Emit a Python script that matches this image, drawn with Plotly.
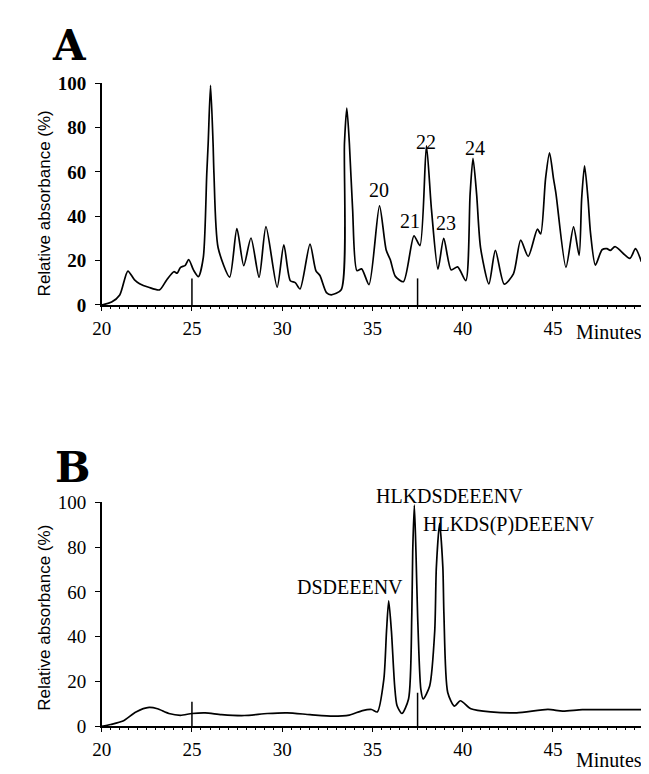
import plotly.graph_objects as go

# ---------------- data ----------------
# Panel A chromatogram (time in minutes, relative absorbance %)
a_time = [20.0, 20.55, 21.0, 21.45, 21.82, 22.1, 22.6, 23.2, 23.6, 24.0, 24.18, 24.36, 24.63, 24.82,
          25.09, 25.36, 25.63, 25.82, 25.9, 26.03, 26.17, 26.22, 26.45, 27.09, 27.49, 27.87, 28.27,
          28.72, 29.1, 29.72, 30.09, 30.45, 30.72, 30.99, 31.54, 31.87, 32.09, 32.45, 32.72, 33.27,
          33.45, 33.58, 33.72, 33.9, 34.14, 34.4, 34.81, 35.39, 35.76, 35.99, 36.27, 36.72, 37.3,
          37.63, 37.99, 38.27, 38.63, 38.95, 39.36, 39.72, 40.17, 40.41, 40.57, 40.77, 40.99, 41.45,
          41.81, 42.3, 42.81, 43.21, 43.63, 44.14, 44.32, 44.59, 44.81, 45.03, 45.17, 45.72, 46.14,
          46.45, 46.59, 46.75, 46.94, 47.08, 47.35, 47.72, 47.99, 48.17, 48.44, 49.26, 49.57, 49.9]
a_abs = [0, 1.3, 4.5, 15.3, 11.3, 9.6, 8.0, 6.8, 11.3, 15.0, 14.3, 16.9, 17.9, 20.5,
         15.7, 12.8, 21.5, 59, 73, 99, 73, 59, 25.8, 12.6, 34.4, 17.7, 30.2,
         12.5, 35.3, 8.0, 27.1, 10.9, 10.1, 7.2, 27.4, 15.4, 13.3, 5.6, 4.6, 6.9,
         73, 88.8, 73, 43.3, 15.5, 16.3, 9.2, 44.7, 24.8, 20.4, 12.9, 10.5, 31.2,
         26.8, 71.8, 43.0, 16.2, 30.1, 15.8, 17.2, 11.0, 50, 66.1, 50, 25.8, 9.5,
         24.6, 9.4, 14.0, 29.2, 21.9, 34.2, 32.0, 57, 68.6, 57, 50.0, 17.0, 35.2,
         22.4, 48, 62.7, 48, 32.5, 18.0, 24.9, 25.4, 24.6, 26.3, 21.0, 25.4, 19.5]

# Panel B chromatogram
b_time = [20.0, 20.5, 21.18, 21.9, 22.63, 23.09, 23.72, 24.36, 25.0, 25.73, 26.64, 27.9, 29.18,
          30.27, 31.54, 32.81, 33.72, 34.45, 34.95, 35.27, 35.63, 35.78, 35.9, 36.05, 36.23, 36.36,
          36.63, 37.0, 37.18, 37.23, 37.32, 37.41, 37.5, 37.68, 37.81, 38.17, 38.45, 38.54, 38.72,
          38.9, 38.96, 39.17, 39.54, 39.87, 40.45, 41.54, 42.99, 44.72, 45.54, 46.63, 48.45, 49.9]
b_abs = [0, 0.8, 2.3, 6.4, 8.4, 7.8, 5.7, 4.9, 5.7, 6.0, 5.2, 4.8, 5.7,
         6.0, 5.2, 4.5, 5.0, 7.0, 7.5, 6.4, 20.9, 42.6, 56.0, 42.6, 18.0, 9.3,
         5.7, 12.2, 50.0, 78, 98.8, 78, 50.0, 16.5, 12.2, 18.0, 42.6, 71, 90.7,
         71, 50.0, 15.1, 9.0, 11.4, 7.8, 6.4, 6.0, 7.5, 6.8, 7.4, 7.4, 7.4]

# Peak labels
a_labels = ["20", "21", "22", "23", "24"]
a_label_t = [35.38, 37.07, 37.94, 39.09, 40.67]
a_label_v = [52.0, 37.8, 79.5, 37.0, 76.5]

b_labels = ["DSDEEENV", "HLKDSDEEENV", "HLKDS(P)DEEENV"]
b_label_t = [33.74, 39.25, 42.55]
b_label_v = [62.2, 108.7, 96.1]

# Tall marker ticks drawn up from the time axis
a_mark_t = [25, 37.5, 50]
a_mark_h = [12, 12, 12]
b_mark_t = [25, 37.5, 50]
b_mark_h = [11, 15, 11]

x_ticks = [20, 25, 30, 35, 40, 45]
y_ticks = [0, 20, 40, 60, 80, 100]

# ---------------- figure ----------------
W, H = 649, 774
SERIF = "Liberation Serif"
SANS = "Liberation Sans"
SLAB = "DejaVu Serif"

fig = go.Figure()
fig.add_trace(go.Scatter(x=a_time, y=a_abs, mode="lines", xaxis="x", yaxis="y",
                         line=dict(color="black", width=1.7, shape="spline", smoothing=0.7),
                         showlegend=False, hoverinfo="skip"))
fig.add_trace(go.Scatter(x=b_time, y=b_abs, mode="lines", xaxis="x2", yaxis="y2",
                         line=dict(color="black", width=1.7, shape="spline", smoothing=0.7),
                         showlegend=False, hoverinfo="skip"))

xdom = [85 / W, 635 / W]
ydomA = [1 - 295 / H, 1 - 67 / H]
ydomB = [1 - 728 / H, 1 - 498 / H]

def xaxis_cfg(anchor):
    return dict(domain=xdom, anchor=anchor, range=[20, 50], tickvals=x_ticks,
                showline=True, linecolor="black", linewidth=1.5, ticks="outside",
                ticklen=4, tickwidth=1.2, tickcolor="black",
                minor=dict(dtick=0.5, ticks="outside", ticklen=2, tickwidth=1, tickcolor="black"),
                showgrid=False, zeroline=False, ticklabelstandoff=1,
                tickfont=dict(family=SERIF, size=19, color="black"))

def yaxis_cfg(anchor, dom, bold):
    f = dict(family=SERIF, size=19, color="black")
    if bold:
        f["weight"] = "bold"
    return dict(domain=dom, anchor=anchor, range=[0, 100], tickvals=y_ticks,
                showline=True, linecolor="black", linewidth=1.5, ticks="outside",
                ticklen=5, tickwidth=1.2, tickcolor="black",
                showgrid=False, zeroline=False, ticklabelstandoff=5, tickfont=f)

fig.update_layout(
    width=W, height=H, margin=dict(l=0, r=0, t=0, b=0),
    paper_bgcolor="white", plot_bgcolor="white",
    font=dict(family=SERIF, color="black"),
    xaxis=xaxis_cfg("y"), yaxis=yaxis_cfg("x", ydomA, True),
    xaxis2=xaxis_cfg("y2"), yaxis2=yaxis_cfg("x2", ydomB, False),
)

shapes = []
for t, h in zip(a_mark_t, a_mark_h):
    shapes.append(dict(type="line", xref="x", yref="y", x0=t, x1=t, y0=0, y1=h,
                       line=dict(color="black", width=1.5)))
for t, h in zip(b_mark_t, b_mark_h):
    shapes.append(dict(type="line", xref="x2", yref="y2", x0=t, x1=t, y0=0, y1=h,
                       line=dict(color="black", width=1.5)))
fig.update_layout(shapes=shapes)

ann = []
for s, t, v in zip(a_labels, a_label_t, a_label_v):
    ann.append(dict(text=s, x=t, y=v / 100, xref="x", yref="y domain", showarrow=False,
                    font=dict(family=SERIF, size=20, color="black")))
for s, t, v in zip(b_labels, b_label_t, b_label_v):
    ann.append(dict(text=s, x=t, y=v / 100, xref="x2", yref="y2 domain", showarrow=False,
                    font=dict(family=SERIF, size=20, color="black")))

# axis titles and panel letters
for yc in [191, 617]:
    ann.append(dict(text="Relative absorbance (%)", x=27 / W, y=1 - yc / H, xref="paper", yref="paper",
                    showarrow=False, textangle=-90, xanchor="center", yanchor="middle",
                    font=dict(family=SANS, size=17, color="black")))
for yc in [323, 763]:
    ann.append(dict(text="Minutes", x=636 / W, y=1 - yc / H, xref="paper", yref="paper",
                    showarrow=False, xanchor="right", yanchor="middle",
                    font=dict(family=SERIF, size=20, color="black")))
for letter, xc, yc in [("A", 52, 28), ("B", 56, 462)]:
    ann.append(dict(text=letter, x=xc / W, y=1 - yc / H, xref="paper", yref="paper",
                    showarrow=False, xanchor="center", yanchor="middle",
                    font=dict(family=SLAB, size=42, color="black", weight="bold")))
fig.update_layout(annotations=ann)

fig.write_html("out.html")
